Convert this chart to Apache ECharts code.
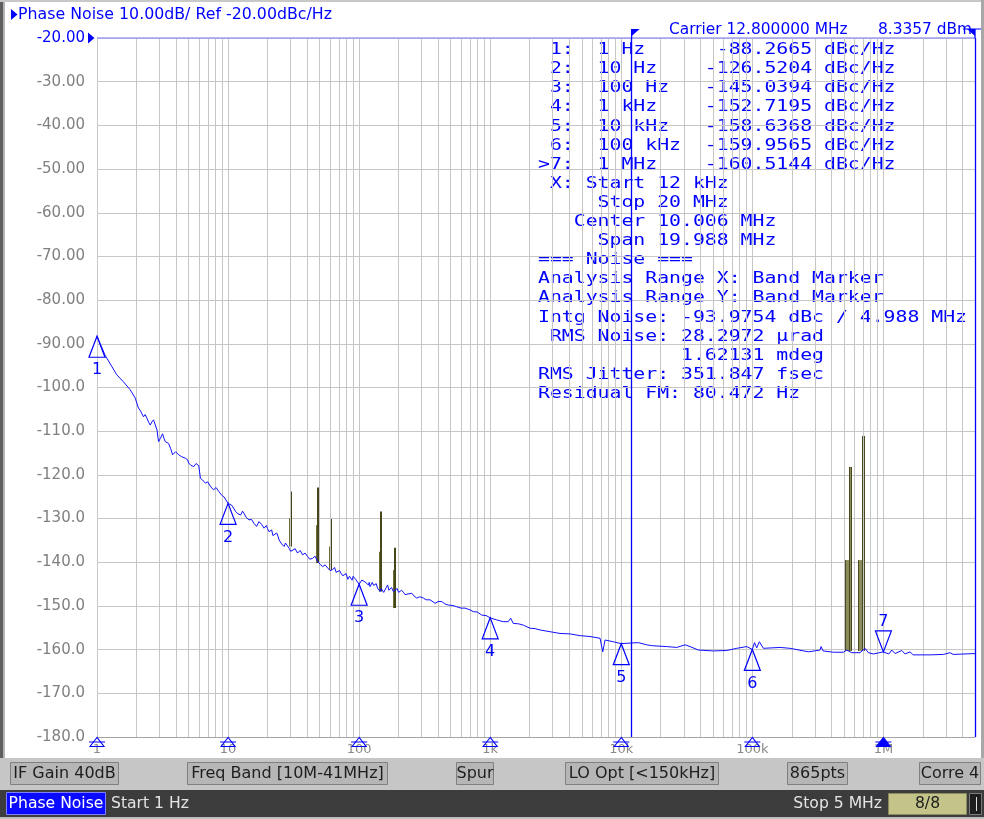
<!DOCTYPE html>
<html><head><meta charset="utf-8">
<script src="https://cdn.jsdelivr.net/npm/echarts@6/dist/echarts.min.js"></script>
<style>html,body{margin:0;padding:0;background:#fff;}#c{width:984px;height:819px;}</style>
</head><body><div id="c"></div>
<script>
// ---------------- data ----------------
const xMin = 1, xMax = 5e6;
const yMin = -180, yMax = -20, yStep = 10;
const xTickLabels = ['1', '10', '100', '1k', '10k', '100k', '1M'];
const bandStartHz = 12000;

const traceHz = [
  1, 1.152, 1.416, 1.591, 1.79, 1.955, 2.073, 2.264, 2.403, 2.548, 2.70, 2.868, 2.949, 3.165, 3.319, 3.518, 3.776, 3.98, 4.198, 4.724,
  5.007, 5.47, 5.974, 6.157, 6.724, 7.215, 7.785, 8.503, 9.286, 10,
  11.42, 12.47, 13.22, 14.43, 15.77, 16.5, 17.22, 18.81, 19.6, 20.54, 21.5, 22.44, 23.5, 24.51, 25.6, 26.77, 28, 29.24, 31.05, 33.91,
  35.5, 37.04, 40.45, 42, 44.19, 46, 48.26, 50.5, 52.71, 55, 57.57, 60, 62.88, 65, 68.68, 73, 77.18, 82, 86.84, 90, 94, 100,
  104.7, 110.9, 117.6, 121.1, 126, 132.2, 138, 144.4, 150, 157.6, 165, 172.1, 182.4, 195, 205.2, 218, 230.8, 252, 262, 275.1,
  290, 309, 325, 347.5, 360, 379.6, 400, 426.9, 450, 479.4, 520, 555.6, 600, 642.9, 700, 743.6, 800, 862, 930, 1000,
  1120, 1258, 1373, 1433, 1499, 1650, 1791, 2014, 2200, 2401, 2862, 3412, 4068, 4849, 5781, 6890, 7224, 7522, 8703, 10000,
  11675, 13504, 15652, 16097, 17088, 22247, 26511, 30683, 33497, 38759, 50443, 63830, 76072, 90700, 100000,
  104000, 108000, 113200, 121400, 162800, 194100, 267700, 328800, 334600, 346700, 415500, 495300, 525700, 574100, 664000,
  725100, 768200, 838800, 1000000, 1100000, 1159000, 1228000, 1381000, 1464000, 1599000, 1685000, 1905000, 2272000,
  2870000, 3228000, 3403000, 5000000,
  // finer ripple read between the points above
  2.15, 2.33, 2.48, 2.62, 3.05, 3.24, 3.4, 3.65, 4.4, 4.9, 5.2, 5.7, 6.4, 7.0, 7.5, 8.1, 8.9, 9.6,
  10.7, 11.9, 12.9, 13.8, 15.1, 18.0, 20.0, 22.0, 24.0, 27.4, 30.0, 32.5, 34.7, 38.7, 41.2, 45.1, 47.2, 51.6, 53.8, 58.8,
  61.4, 66.8, 70.8, 75, 79.5, 84.4, 88.4, 92, 97,
  102, 107.5, 114, 119.5, 123.5, 129, 135, 141, 147.5, 154, 161, 168.5, 177, 188.5, 200, 211, 224
];
const traceDbc = [
  -88.27, -92.6, -97.1, -98.7, -100.5, -102.4, -104.7, -106.7, -107.0, -108.6, -107.4, -109.7, -112.4, -110.6, -112.4, -112.8, -115.4, -114.7, -115.4, -116.2,
  -117.3, -118.1, -117.9, -120.8, -121.9, -122.3, -123.4, -123.8, -125.0, -126.52,
  -128.4, -129.2, -128.8, -130.3, -131.1, -131.8, -130.7, -132.2, -131.6, -133.0, -132.6, -133.7, -133.3, -134.9, -135.8, -136.4, -135.7, -136.8, -137.2, -137.9,
  -137.3, -138.3, -138.7, -139.3, -139.1, -138.6, -139.8, -140.5, -141.0, -140.6, -141.3, -141.9, -141.7, -141.2, -142.5, -142.6, -143.3, -143.9, -143.6, -143.2, -143.9, -145.04,
  -144.1, -144.5, -145.2, -145.6, -144.6, -145.2, -145.9, -146.7, -145.6, -146.3, -145.2, -146.0, -146.7, -146.0, -146.7, -146.9, -147.5, -147.1, -147.7, -148.2,
  -147.9, -148.2, -148.6, -148.6, -148.9, -149.4, -149.0, -149.0, -149.5, -149.8, -149.9, -150.2, -150.5, -150.5, -150.9, -151.3, -151.4, -152.1, -152.2, -152.72,
  -153.2, -153.6, -153.6, -152.8, -154.0, -154.1, -154.4, -155.1, -155.2, -155.5, -155.9, -156.3, -156.4, -156.8, -157.0, -157.4, -160.5, -157.8, -158.2, -158.64,
  -158.5, -158.4, -158.9, -158.5, -159.1, -159.3, -159.5, -158.9, -159.3, -160.1, -160.3, -160.2, -159.7, -159.3, -159.96,
  -158.4, -159.6, -158.2, -159.7, -159.5, -159.7, -160.5, -160.1, -159.3, -160.3, -160.6, -160.6, -160.1, -160.7, -160.7,
  -159.7, -160.7, -161.0, -160.51, -161.0, -160.1, -160.9, -160.2, -161.0, -160.5, -161.2, -161.2, -161.2,
  -161.1, -160.7, -161.1, -160.9,
  -105.4, -106.2, -108.0, -107.9, -111.6, -111.6, -112.0, -114.0, -115.8, -116.5, -117.8, -117.4, -121.2, -121.6, -123.0, -122.9, -124.6, -125.3,
  -127.0, -128.9, -128.3, -129.8, -130.2, -131.3, -132.3, -133.9, -134.0, -135.6, -137.5, -136.9, -138.2, -137.9, -139.0, -139.5, -139.0, -140.2, -141.4, -141.0,
  -142.1, -142.3, -141.9, -143.1, -142.6, -143.2, -144.1, -143.4, -144.3,
  -144.6, -143.8, -144.9, -144.6, -145.9, -145.3, -144.9, -146.3, -146.0, -146.9, -145.8, -146.4, -145.8, -146.4, -146.9, -146.4, -147.4
];

// spurs: frequency, level at the trace, peak level, level of the shorter side
const spurHz   = [30.06, 48.3, 60.5, 146.2, 187.9, 544500, 684200];
const spurBase = [-136.4, -140.2, -141.8, -146.7, -150.5, -160.3, -160.3];
const spurPeak = [-123.8, -122.9, -130.1, -128.4, -136.7, -118.2, -111.1];
const spurMid  = [-129.9, -131.5, -136.4, -137.6, -141.8, -139.5, -139.5];

const markerHz     = [1, 10, 100, 1000, 10000, 100000, 1000000];
const markerDbc    = [-88.2665, -126.5204, -145.0394, -152.7195, -158.6368, -159.9565, -160.5144];
const markerLabels = ['1', '2', '3', '4', '5', '6', '7'];
const activeMarker = 6;

const tableLines = [
  ' 1:  1 Hz      -88.2665 dBc/Hz',
  ' 2:  10 Hz    -126.5204 dBc/Hz',
  ' 3:  100 Hz   -145.0394 dBc/Hz',
  ' 4:  1 kHz    -152.7195 dBc/Hz',
  ' 5:  10 kHz   -158.6368 dBc/Hz',
  ' 6:  100 kHz  -159.9565 dBc/Hz',
  '>7:  1 MHz    -160.5144 dBc/Hz',
  ' X: Start 12 kHz',
  '     Stop 20 MHz',
  '   Center 10.006 MHz',
  '     Span 19.988 MHz',
  '=== Noise ===',
  'Analysis Range X: Band Marker',
  'Analysis Range Y: Band Marker',
  'Intg Noise: -93.9754 dBc / 4.988 MHz',
  ' RMS Noise: 28.2972 \u00b5rad',
  '            1.62131 mdeg',
  'RMS Jitter: 351.847 fsec',
  'Residual FM: 80.472 Hz'
];

const softkeys = ['IF Gain 40dB', 'Freq Band [10M-41MHz]', 'Spur', 'LO Opt [<150kHz]', '865pts', 'Corre 4'];

// ---------------- layout / style ----------------
const BLUE = '#0000ff';
const SANS = '"DejaVu Sans", sans-serif';
const MONO = '"DejaVu Sans Mono", monospace';
const GRID_L = 97, GRID_T = 38, GRID_W = 878, GRID_H = 699;

const gridHz = [];
for (let d = 0; d <= 6; d++) {
  for (let m = 1; m <= 9; m++) {
    const v = m * Math.pow(10, d);
    if (v < xMax) gridHz.push(v);
  }
}

const traceData = traceHz.map((f, i) => [f, traceDbc[i]]).sort((a, b) => a[0] - b[0]);
const spurData = spurHz.map((f, i) => [f, spurBase[i], spurPeak[i], spurMid[i]]);
const markerData = markerHz.map((f, i) => [f, markerDbc[i]]);

function fmtY(v) {
  return v > -100 ? v.toFixed(2) : v.toFixed(1);
}

const chart = echarts.init(document.getElementById('c'), null, { renderer: 'canvas' });

const graphics = [];
// window frame
graphics.push({ type: 'rect', shape: { x: 0, y: 0, width: 3, height: 758 }, style: { fill: '#5e5e5e' }, silent: true });
graphics.push({ type: 'rect', shape: { x: 3, y: 0, width: 2, height: 758 }, style: { fill: '#b4b4b4' }, silent: true });
graphics.push({ type: 'rect', shape: { x: 0, y: 0, width: 984, height: 2 }, style: { fill: '#c8c8c8' }, silent: true });
graphics.push({ type: 'rect', shape: { x: 981, y: 0, width: 3, height: 758 }, style: { fill: '#a8a8a8' }, silent: true });
// header
graphics.push({ type: 'polygon', shape: { points: [[11, 9], [17.5, 14.5], [11, 20]] }, style: { fill: BLUE } });
graphics.push({ type: 'text', x: 18, y: 15, style: { text: 'Phase Noise 10.00dB/ Ref -20.00dBc/Hz', font: '15.8px ' + SANS, fill: BLUE, verticalAlign: 'middle', textVerticalAlign: 'middle' } });
graphics.push({ type: 'text', x: 669, y: 30, style: { text: 'Carrier 12.800000 MHz', font: '15.4px ' + SANS, fill: BLUE, verticalAlign: 'middle', textVerticalAlign: 'middle' } });
graphics.push({ type: 'text', x: 878, y: 30, style: { text: '8.3357 dBm', font: '15.4px ' + SANS, fill: BLUE, verticalAlign: 'middle', textVerticalAlign: 'middle' } });
// reference level pointer
graphics.push({ type: 'polygon', shape: { points: [[88, 32.5], [94.5, 38], [88, 43.5]] }, style: { fill: BLUE } });
// marker table
tableLines.forEach((t, i) => {
  graphics.push({ type: 'text', x: 538, y: 50 + i * 19.1, scaleX: 1.237, scaleY: 1, style: { text: t, font: '16px ' + MONO, fill: BLUE, verticalAlign: 'middle', textVerticalAlign: 'middle' } });
});
// softkey panel
graphics.push({ type: 'rect', shape: { x: 0, y: 758, width: 984, height: 32 }, style: { fill: '#c6c6c6' } });
const keyX = [10, 187, 456, 565, 787, 919];
const keyW = [108, 200, 37, 153, 60, 61];
softkeys.forEach((t, i) => {
  graphics.push({ type: 'rect', shape: { x: keyX[i] + 0.5, y: 762.5, width: keyW[i], height: 22 }, style: { fill: '#b6b6b6', stroke: '#808080', lineWidth: 1 } });
  graphics.push({ type: 'text', x: keyX[i] + keyW[i] / 2 + 0.5, y: 774, style: { text: t, font: '16px ' + SANS, fill: '#1e1e1e', align: 'center', textAlign: 'center', verticalAlign: 'middle', textVerticalAlign: 'middle' } });
});
// status bar
graphics.push({ type: 'rect', shape: { x: 0, y: 790, width: 984, height: 27 }, style: { fill: '#3c3c3c' } });
graphics.push({ type: 'rect', shape: { x: 0, y: 817, width: 984, height: 2 }, style: { fill: '#c0c0c0' } });
graphics.push({ type: 'rect', shape: { x: 6.5, y: 792.5, width: 99, height: 22 }, style: { fill: '#0a0aff', stroke: '#8080ff', lineWidth: 1 } });
graphics.push({ type: 'text', x: 56, y: 804, style: { text: 'Phase Noise', font: '15.6px ' + SANS, fill: '#ffffff', align: 'center', textAlign: 'center', verticalAlign: 'middle', textVerticalAlign: 'middle' } });
graphics.push({ type: 'text', x: 111, y: 804, style: { text: 'Start 1 Hz', font: '15.6px ' + SANS, fill: '#e4e4e4', verticalAlign: 'middle', textVerticalAlign: 'middle' } });
graphics.push({ type: 'text', x: 882, y: 804, style: { text: 'Stop 5 MHz', font: '15.6px ' + SANS, fill: '#e4e4e4', align: 'right', textAlign: 'right', verticalAlign: 'middle', textVerticalAlign: 'middle' } });
graphics.push({ type: 'rect', shape: { x: 888.5, y: 793.5, width: 78, height: 21 }, style: { fill: '#c4c48a', stroke: '#8a8a5a', lineWidth: 1 } });
graphics.push({ type: 'text', x: 927.5, y: 804, style: { text: '8/8', font: '15.6px ' + SANS, fill: '#202020', align: 'center', textAlign: 'center', verticalAlign: 'middle', textVerticalAlign: 'middle' } });
graphics.push({ type: 'rect', shape: { x: 969.5, y: 793.5, width: 12, height: 21 }, style: { fill: '#1e1e1e', stroke: '#7a7a7a', lineWidth: 1 } });
graphics.push({ type: 'line', shape: { x1: 976.5, y1: 797, x2: 976.5, y2: 811 }, style: { stroke: '#e0e0e0', lineWidth: 1 } });

const option = {
  animation: false,
  backgroundColor: '#ffffff',
  grid: { left: GRID_L, top: GRID_T, width: GRID_W, height: GRID_H, containLabel: false, outerBoundsMode: 'none' },
  xAxis: {
    type: 'log', logBase: 10, min: xMin, max: xMax,
    axisLine: { show: true, lineStyle: { color: '#a4a4a4', width: 1 } },
    axisTick: { show: false },
    splitLine: { show: false },
    minorSplitLine: { show: false },
    axisLabel: {
      show: true, color: '#8a8a8a', fontFamily: SANS, fontSize: 13, margin: 6,
      showMinLabel: true, showMaxLabel: false,
      formatter: function (v) {
        const k = Math.log10(v);
        const r = Math.round(k);
        if (Math.abs(k - r) < 1e-6 && r >= 0 && r < xTickLabels.length) return xTickLabels[r];
        return '';
      }
    }
  },
  yAxis: {
    type: 'value', min: yMin, max: yMax, interval: yStep,
    axisLine: { show: true, lineStyle: { color: '#a4a4a4', width: 1 } },
    axisTick: { show: false },
    splitLine: { show: true, lineStyle: { color: '#c6c6c6', width: 1 } },
    axisLabel: {
      margin: 2,
      formatter: function (v) {
        return v === yMax ? '{b|' + fmtY(v) + '}' : '{g|' + fmtY(v) + '}';
      },
      rich: {
        g: { color: '#808080', fontFamily: SANS, fontSize: 15, padding: [0, 10, 0, 0] },
        b: { color: BLUE, fontFamily: SANS, fontSize: 15, padding: [0, 10, 0, 0] }
      }
    }
  },
  graphic: { elements: graphics },
  series: [
    {
      type: 'line', data: [], silent: true, z: 1,
      markLine: {
        silent: true, symbol: 'none', animation: false,
        label: { show: false },
        lineStyle: { color: '#c6c6c6', type: 'solid', width: 1 },
        data: gridHz.map(f => ({ xAxis: f }))
      }
    },
    {
      type: 'line', data: [], silent: true, z: 3,
      markLine: {
        silent: true, symbol: 'none', animation: false,
        label: { show: false },
        data: [
          { yAxis: yMax, lineStyle: { color: '#9c9cf4', type: 'solid', width: 1.5 } },
          { xAxis: bandStartHz, lineStyle: { color: BLUE, type: 'solid', width: 1.3 } },
          { xAxis: xMax, lineStyle: { color: BLUE, type: 'solid', width: 1.3 } }
        ]
      }
    },
    {
      type: 'custom', name: 'spurs', z: 4, clip: true,
      data: spurData,
      renderItem: function (params, api) {
        const f = api.value(0);
        const b = api.coord([f, api.value(1)]);
        const t = api.coord([f, api.value(2)]);
        const m = api.coord([f, api.value(3)]);
        const big = f > 1e5;
        const xr = Math.round(b[0]);
        const children = [];
        if (big) {
          children.push({ type: 'rect', shape: { x: xr - 3, y: m[1], width: 3, height: b[1] - m[1] }, style: { fill: '#8c8c5a' } });
          children.push({ type: 'line', shape: { x1: xr - 3.5, y1: b[1], x2: xr - 3.5, y2: m[1] }, style: { stroke: '#4a4a1e', lineWidth: 1 } });
          children.push({ type: 'rect', shape: { x: xr, y: t[1], width: 3, height: b[1] - t[1] }, style: { fill: '#8c8c5a' } });
          children.push({ type: 'line', shape: { x1: xr + 0.5, y1: b[1], x2: xr + 0.5, y2: t[1] }, style: { stroke: '#4a4a1e', lineWidth: 1 } });
          children.push({ type: 'line', shape: { x1: xr + 2.5, y1: b[1], x2: xr + 2.5, y2: t[1] }, style: { stroke: '#4a4a1e', lineWidth: 1 } });
        } else {
          children.push({ type: 'line', shape: { x1: xr - 1.5, y1: b[1], x2: xr - 1.5, y2: m[1] }, style: { stroke: '#6e6e36', lineWidth: 1 } });
          children.push({ type: 'line', shape: { x1: xr, y1: b[1], x2: xr, y2: t[1] }, style: { stroke: '#46461a', lineWidth: 2 } });
        }
        return { type: 'group', children: children };
      }
    },
    {
      type: 'line', name: 'Phase Noise', data: traceData, z: 5,
      showSymbol: false, symbol: 'none', smooth: false, silent: true,
      lineStyle: { color: '#1010ff', width: 1 }
    },
    {
      type: 'custom', name: 'markers', z: 6, clip: false,
      data: markerData,
      renderItem: function (params, api) {
        const i = params.dataIndex;
        const p = api.coord([api.value(0), api.value(1)]);
        const h = 21, w = 8;
        let pts, ty;
        if (i === activeMarker) {
          pts = [[p[0], p[1]], [p[0] - w, p[1] - h], [p[0] + w, p[1] - h]];
          ty = p[1] - h - 9;
        } else {
          pts = [[p[0], p[1]], [p[0] - w, p[1] + h], [p[0] + w, p[1] + h]];
          ty = p[1] + 34;
        }
        return {
          type: 'group', children: [
            { type: 'polygon', shape: { points: pts }, style: { fill: 'rgba(0,0,0,0)', stroke: BLUE, lineWidth: 1.2 } },
            { type: 'text', style: { text: markerLabels[i], x: p[0], y: ty, fill: BLUE, font: '16px ' + SANS, align: 'center', textAlign: 'center', verticalAlign: 'middle', textVerticalAlign: 'middle' } }
          ]
        };
      }
    },
    {
      type: 'custom', name: 'axisMarkers', z: 7, clip: false,
      data: markerHz.map(f => [f, yMin]),
      renderItem: function (params, api) {
        const i = params.dataIndex;
        const p = api.coord([api.value(0), api.value(1)]);
        const filled = i === activeMarker;
        return {
          type: 'group', children: [
            { type: 'polygon', shape: { points: [[p[0], p[1] + 0.5], [p[0] - 7, p[1] + 9.5], [p[0] + 7, p[1] + 9.5]] }, style: { fill: filled ? BLUE : 'rgba(0,0,0,0)', stroke: BLUE, lineWidth: 1.1 } },
            { type: 'line', shape: { x1: p[0] - 8, y1: p[1] + 5, x2: p[0] + 8, y2: p[1] + 5 }, style: { stroke: BLUE, lineWidth: 1 } }
          ]
        };
      }
    },
    {
      type: 'custom', name: 'bandFlags', z: 7, clip: false,
      data: [[bandStartHz, yMax], [xMax, yMax]],
      renderItem: function (params, api) {
        const i = params.dataIndex;
        const p = api.coord([api.value(0), api.value(1)]);
        const top = p[1] - 9;
        const dir = i === 0 ? 1 : -1;
        const ch = [
          { type: 'polygon', shape: { points: [[p[0], top], [p[0] + 8 * dir, top], [p[0], top + 7]] }, style: { fill: BLUE } },
          { type: 'line', shape: { x1: p[0], y1: top, x2: p[0], y2: p[1] }, style: { stroke: BLUE, lineWidth: 1.3 } }
        ];
        if (i === 1) ch.push({ type: 'line', shape: { x1: p[0] - 12, y1: top, x2: p[0] + 6, y2: top }, style: { stroke: BLUE, lineWidth: 1 } });
        return { type: 'group', children: ch };
      }
    }
  ]
};
chart.setOption(option);
</script>
</body></html>
